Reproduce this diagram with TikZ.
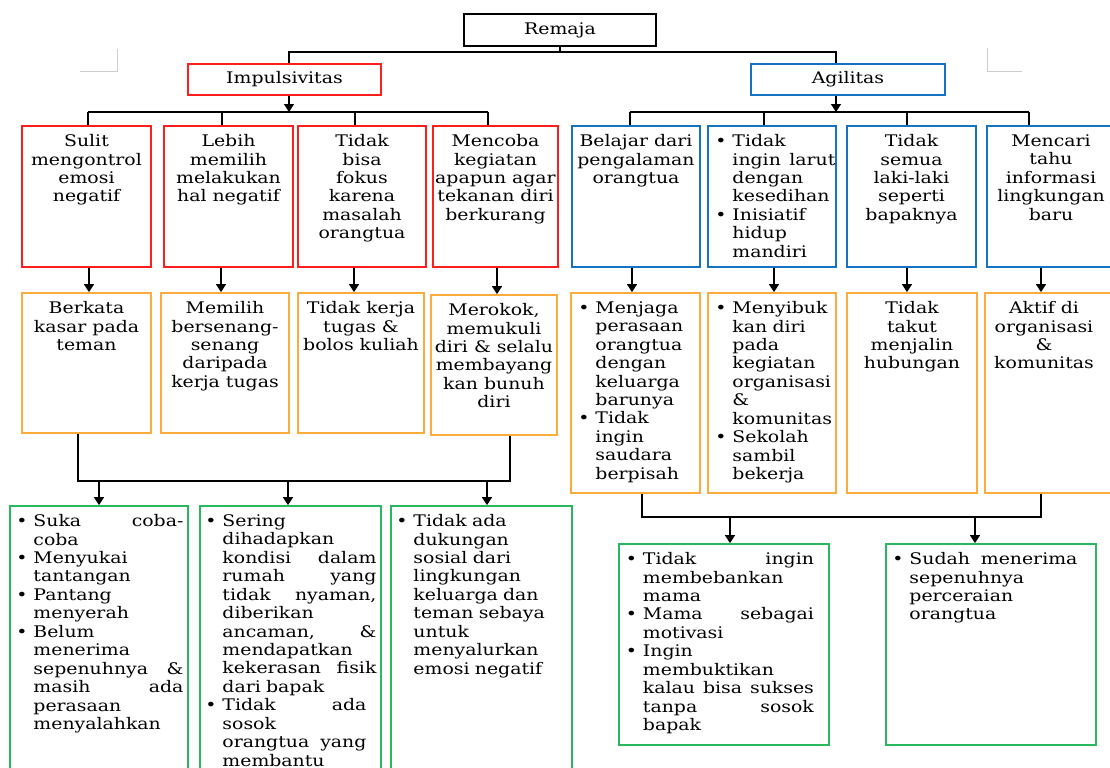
\documentclass[tikz,border=0pt]{standalone}
\usepackage{fontspec}
\setmainfont{DejaVu Serif}[FakeStretch=1.18]
\usetikzlibrary{arrows.meta,fit,positioning}

\definecolor{impred}{RGB}{255,30,30}
\definecolor{agiblue}{RGB}{20,115,195}
\definecolor{resorange}{RGB}{252,172,60}
\definecolor{endgreen}{RGB}{40,185,95}
\definecolor{markgray}{RGB}{205,205,205}

\newcommand\boxfont{\fontsize{9.1}{10.5}\selectfont}
\newcommand\bul{\leavevmode\llap{\textbullet\hspace{0.12cm}}}
\newcommand\jline[2]{\leavevmode\hbox to #1{#2}}

\tikzset{
  box/.style={draw, line width=1pt, inner sep=0pt},
  topbox/.style={box, draw=black},
  imp/.style={box, draw=impred},
  agi/.style={box, draw=agiblue},
  res/.style={box, draw=resorange},
  fin/.style={box, draw=endgreen},
  txt/.style={inner sep=0pt, align=center, anchor=north},
  lst/.style={inner sep=0pt, align=left, anchor=north west},
  link/.style={line width=0.8pt},
  arr/.style={link, -{Triangle[length=0.16cm,width=0.2cm]}},
}

\begin{document}
\begin{tikzpicture}[x=0.02cm, y=-0.02cm, font=\boxfont]
  \useasboundingbox (0,0) rectangle (1110,768);
  \clip (0,0) rectangle (1110,768);

  % page corner marks
  \draw[markgray, line width=0.5pt] (117,49) -- (117,71) -- (80,71);
  \draw[markgray, line width=0.5pt] (987,48) -- (987,71) -- (1022,71);

  % top level
  \node[topbox, fit={(464,14) (656,46)}, label=center:Remaja] (rem) {};
  \node[imp, fit={(188,64) (381,95)}, label=center:Impulsivitas] (impl) {};
  \node[agi, fit={(751,64) (945,95)}, label=center:Agilitas] (agil) {};

  \coordinate (ti) at (289,52);
  \coordinate (ta) at (836,52);
  \draw[link] (rem.south) -- (rem.south |- ti);
  \draw[link] (ti |- impl.north) -- (ti) -- (ta) -- (ta |- agil.north);

  % first row boxes
  \node[imp, fit={(22,126) (151,267)}] (r1) {};
  \node[imp, fit={(164,126) (293,267)}] (r2) {};
  \node[imp, fit={(298,126) (426,267)}] (r3) {};
  \node[imp, fit={(433,126) (558,267)}] (r4) {};
  \node[agi, fit={(572,126) (700,267)}] (a1) {};
  \node[agi, fit={(708,126) (836,267)}] (a2) {};
  \node[agi, fit={(847,126) (976,267)}] (a3) {};
  \node[agi, fit={(987,126) (1115,267)}] (a4) {};

  \node[txt] (tr1) at ([yshift=-0.18cm]r1.north) {Sulit\\mengontrol\\emosi\\negatif};
  \node[txt] (tr2) at ([yshift=-0.18cm]r2.north) {Lebih\\memilih\\melakukan\\hal negatif};
  \node[txt] (tr3) at ([yshift=-0.18cm]r3.north) {Tidak\\bisa\\fokus\\karena\\masalah\\orangtua};
  \node[txt] (tr4) at ([yshift=-0.18cm]r4.north) {Mencoba\\kegiatan\\apapun agar\\tekanan diri\\berkurang};
  \node[txt] (ta1) at ([yshift=-0.18cm]a1.north) {Belajar dari\\pengalaman\\orangtua};
  \node[lst, text width=2.06cm] (ta2) at ([xshift=0.5cm, yshift=-0.18cm]a2.north west)
    {\bul Tidak\\\jline{2.06cm}{ingin\hfill larut}\\dengan\\kesedihan\\\bul Inisiatif\\hidup\\mandiri};
  \node[txt] (ta3) at ([yshift=-0.18cm]a3.north) {Tidak\\semua\\laki-laki\\seperti\\bapaknya};
  \node[txt] (ta4) at ([yshift=-0.18cm]a4.north) {Mencari\\tahu\\informasi\\lingkungan\\baru};

  % bus lines under Impulsivitas and Agilitas
  \draw[arr] (ti |- impl.south) -- (289,112);
  \draw[arr] (ta |- agil.south) -- (836,112);
  \draw[link] (88,112) -- (488,112);
  \draw[link] (630,112) -- (1029,112);
  \foreach \x/\b in {88/r1,222/r2,355/r3,488/r4,630/a1,764/a2,907/a3,1029/a4}
    \draw[link] (\x,112) -- (\x,0 |- \b.north);

  % second row boxes
  \node[res, fit={(22,293) (151,433)}] (o1) {};
  \node[res, fit={(161,293) (289,433)}] (o2) {};
  \node[res, fit={(298,293) (424,433)}] (o3) {};
  \node[res, fit={(431,295) (557,435)}] (o4) {};
  \node[res, fit={(571,293) (700,493)}] (o5) {};
  \node[res, fit={(708,293) (836,493)}] (o6) {};
  \node[res, fit={(847,293) (977,493)}] (o7) {};
  \node[res, fit={(985,293) (1115,493)}] (o8) {};

  \node[txt] (to1) at ([yshift=-0.18cm]o1.north) {Berkata\\kasar pada\\teman};
  \node[txt] (to2) at ([yshift=-0.18cm]o2.north) {Memilih\\bersenang-\\senang\\daripada\\kerja tugas};
  \node[txt] (to3) at ([yshift=-0.18cm]o3.north) {Tidak kerja\\tugas \&\\bolos kuliah};
  \node[txt] (to4) at ([yshift=-0.18cm]o4.north) {Merokok,\\memukuli\\diri \& selalu\\membayang\\kan bunuh\\diri};
  \node[lst, text width=2.1cm] (to5) at ([xshift=0.5cm, yshift=-0.18cm]o5.north west)
    {\bul Menjaga\\perasaan\\orangtua\\dengan\\keluarga\\barunya\\\bul Tidak\\ingin\\saudara\\berpisah};
  \node[lst, text width=2.1cm] (to6) at ([xshift=0.5cm, yshift=-0.18cm]o6.north west)
    {\bul Menyibuk\\kan diri\\pada\\kegiatan\\organisasi\\\&\\komunitas\\\bul Sekolah\\sambil\\bekerja};
  \node[txt] (to7) at ([yshift=-0.18cm]o7.north) {Tidak\\takut\\menjalin\\hubungan};
  \node[txt] (to8) at ([xshift=-0.12cm, yshift=-0.18cm]o8.north) {Aktif di\\organisasi\\\&\\komunitas};

  \foreach \x/\a/\b in {89/r1/o1,221/r2/o2,354/r3/o3,497/r4/o4,632/a1/o5,774/a2/o6,907/a3/o7,1041/a4/o8}
    \draw[arr] (\x,0 |- \a.south) -- (\x,0 |- \b.north);

  % outcome boxes
  \node[fin, fit={(10,506) (188,790)}] (g1) {};
  \node[fin, fit={(200,506) (381,790)}] (g2) {};
  \node[fin, fit={(391,506) (572,790)}] (g3) {};
  \node[fin, fit={(619,544) (829,745)}] (g4) {};
  \node[fin, fit={(886,544) (1096,745)}] (g5) {};

  \node[lst, text width=3.0cm] (tg1) at ([xshift=0.48cm, yshift=-0.18cm]g1.north west)
    {\bul\jline{3.0cm}{Suka\hfill coba-}\\coba\\\bul Menyukai\\tantangan\\\bul Pantang\\menyerah\\\bul Belum\\menerima\\\jline{3.0cm}{sepenuhnya\hfill\&}\\\jline{3.0cm}{masih\hfill ada}\\perasaan\\menyalahkan};
  \node[lst, text width=3.08cm] (tg2) at ([xshift=0.46cm, yshift=-0.18cm]g2.north west)
    {\bul Sering\\dihadapkan\\\jline{3.08cm}{kondisi\hfill dalam}\\\jline{3.08cm}{rumah\hfill yang}\\\jline{3.08cm}{tidak\hfill nyaman,}\\diberikan\\\jline{3.08cm}{ancaman,\hfill\&}\\mendapatkan\\\jline{3.08cm}{kekerasan\hfill fisik}\\dari bapak\\\bul\jline{2.88cm}{Tidak\hfill ada}\\sosok\\\jline{2.88cm}{orangtua\hfill yang}\\membantu};
  \node[lst, text width=3.1cm] (tg3) at ([xshift=0.46cm, yshift=-0.18cm]g3.north west)
    {\bul Tidak ada\\dukungan\\sosial dari\\lingkungan\\keluarga dan\\teman sebaya\\untuk\\menyalurkan\\emosi negatif};
  \node[lst, text width=3.42cm] (tg4) at ([xshift=0.49cm, yshift=-0.18cm]g4.north west)
    {\bul\jline{3.42cm}{Tidak\hfill ingin}\\membebankan\\mama\\\bul\jline{3.42cm}{Mama\hfill sebagai}\\motivasi\\\bul Ingin\\membuktikan\\\jline{3.42cm}{kalau\hfill bisa\hfill sukses}\\\jline{3.42cm}{tanpa\hfill sosok}\\bapak};
  \node[lst, text width=3.36cm] (tg5) at ([xshift=0.48cm, yshift=-0.18cm]g5.north west)
    {\bul\jline{3.36cm}{Sudah\hfill menerima}\\sepenuhnya\\perceraian\\orangtua};

  % collecting lines to the outcomes
  \draw[link] (78,0 |- o1.south) |- (510,481) -- (510,0 |- o4.south);
  \foreach \x/\g in {99/g1,288/g2,487/g3}
    \draw[arr] (\x,481) -- (\x,0 |- \g.north);
  \draw[link] (642,0 |- o5.south) |- (1041,517) -- (1041,0 |- o8.south);
  \foreach \x/\g in {730/g4,975/g5}
    \draw[arr] (\x,517) -- (\x,0 |- \g.north);
\end{tikzpicture}
\end{document}
